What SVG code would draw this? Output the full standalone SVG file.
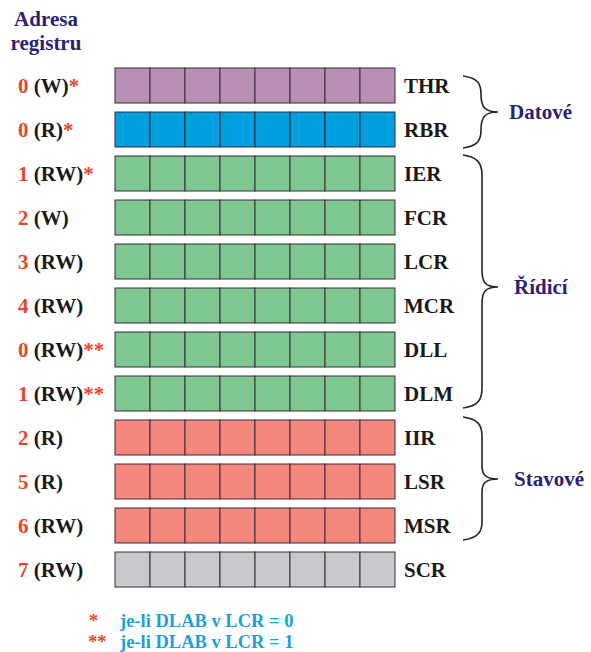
<svg xmlns="http://www.w3.org/2000/svg" width="591" height="652" viewBox="0 0 591 652">
<defs>
<style>
text{font-family:'Liberation Serif','Times New Roman','DejaVu Serif',serif;font-weight:bold}
.t{font-size:21px;fill:#1a1a1a}
.n{fill:#e8462a}
.h{font-size:21px;fill:#2b2370}
.g{font-size:21px;fill:#2b2370}
.f{font-size:18.5px;fill:#1ba0d8}
.s{font-size:18.5px;fill:#e8462a}
.cell{stroke:#3a2a3a;stroke-width:1}
.br{fill:none;stroke:#222;stroke-width:1.6}
</style>
<g id="cells">
<rect class="cell" x="0" y="0" width="35" height="35"/>
<rect class="cell" x="35" y="0" width="35" height="35"/>
<rect class="cell" x="70" y="0" width="35" height="35"/>
<rect class="cell" x="105" y="0" width="35" height="35"/>
<rect class="cell" x="140" y="0" width="35" height="35"/>
<rect class="cell" x="175" y="0" width="35" height="35"/>
<rect class="cell" x="210" y="0" width="35" height="35"/>
<rect class="cell" x="245" y="0" width="35" height="35"/>
</g>
</defs>
<rect width="591" height="652" fill="#fff"/>
<g id="header"><text class="h" x="46" y="26" text-anchor="middle">Adresa</text><text class="h" x="46" y="50" text-anchor="middle">registru</text></g>

<g id="THR"><use href="#cells" x="115" y="68" fill="#b98fb4"/><text class="t" x="18" y="93"><tspan class="n">0</tspan> (W)<tspan class="n">*</tspan></text><text class="t" x="404" y="93">THR</text></g>
<g id="RBR"><use href="#cells" x="115" y="112" fill="#00a0e0"/><text class="t" x="18" y="137"><tspan class="n">0</tspan> (R)<tspan class="n">*</tspan></text><text class="t" x="404" y="137">RBR</text></g>
<g id="IER"><use href="#cells" x="115" y="156" fill="#7ec790"/><text class="t" x="18" y="181"><tspan class="n">1</tspan> (RW)<tspan class="n">*</tspan></text><text class="t" x="404" y="181">IER</text></g>
<g id="FCR"><use href="#cells" x="115" y="200" fill="#7ec790"/><text class="t" x="18" y="225"><tspan class="n">2</tspan> (W)</text><text class="t" x="404" y="225">FCR</text></g>
<g id="LCR"><use href="#cells" x="115" y="244" fill="#7ec790"/><text class="t" x="18" y="269"><tspan class="n">3</tspan> (RW)</text><text class="t" x="404" y="269">LCR</text></g>
<g id="MCR"><use href="#cells" x="115" y="288" fill="#7ec790"/><text class="t" x="18" y="313"><tspan class="n">4</tspan> (RW)</text><text class="t" x="404" y="313">MCR</text></g>
<g id="DLL"><use href="#cells" x="115" y="332" fill="#7ec790"/><text class="t" x="18" y="357"><tspan class="n">0</tspan> (RW)<tspan class="n">**</tspan></text><text class="t" x="404" y="357">DLL</text></g>
<g id="DLM"><use href="#cells" x="115" y="376" fill="#7ec790"/><text class="t" x="18" y="401"><tspan class="n">1</tspan> (RW)<tspan class="n">**</tspan></text><text class="t" x="404" y="401">DLM</text></g>
<g id="IIR"><use href="#cells" x="115" y="420" fill="#f4887c"/><text class="t" x="18" y="445"><tspan class="n">2</tspan> (R)</text><text class="t" x="404" y="445">IIR</text></g>
<g id="LSR"><use href="#cells" x="115" y="464" fill="#f4887c"/><text class="t" x="18" y="489"><tspan class="n">5</tspan> (R)</text><text class="t" x="404" y="489">LSR</text></g>
<g id="MSR"><use href="#cells" x="115" y="508" fill="#f4887c"/><text class="t" x="18" y="533"><tspan class="n">6</tspan> (RW)</text><text class="t" x="404" y="533">MSR</text></g>
<g id="SCR"><use href="#cells" x="115" y="552" fill="#c8c9cc"/><text class="t" x="18" y="577"><tspan class="n">7</tspan> (RW)</text><text class="t" x="404" y="577">SCR</text></g>

<g id="connectors">
<path class="br" d="M463 76 C478 78 481 84 481 94 C481 106 484 112 498 112 C484 112 481 118 481 130 C481 140 478 146 463 148"/>
<path class="br" d="M463 155 C478 157 482 164 482 175 L482 270 C482 282 485 287 498 287 C485 287 482 292 482 304 L482 388 C482 400 478 406 463 408"/>
<path class="br" d="M463 417 C478 419 482 425 482 436 L482 466 C482 474 485 479 498 479 C485 479 482 484 482 492 L482 522 C482 532 478 538 463 540"/>
</g>
<g id="Datove"><text class="g" x="509" y="119">Datové</text></g>
<g id="Ridici"><text class="g" x="514" y="294">Řídicí</text></g>
<g id="Stavove"><text class="g" x="514" y="486">Stavové</text></g>

<g id="legend">
<text class="s" x="89" y="627">*</text>
<text class="f" x="120" y="627">je-li DLAB v LCR = 0</text>
<text class="s" x="88" y="648">**</text>
<text class="f" x="120" y="648">je-li DLAB v LCR = 1</text>
</g>
</svg>
